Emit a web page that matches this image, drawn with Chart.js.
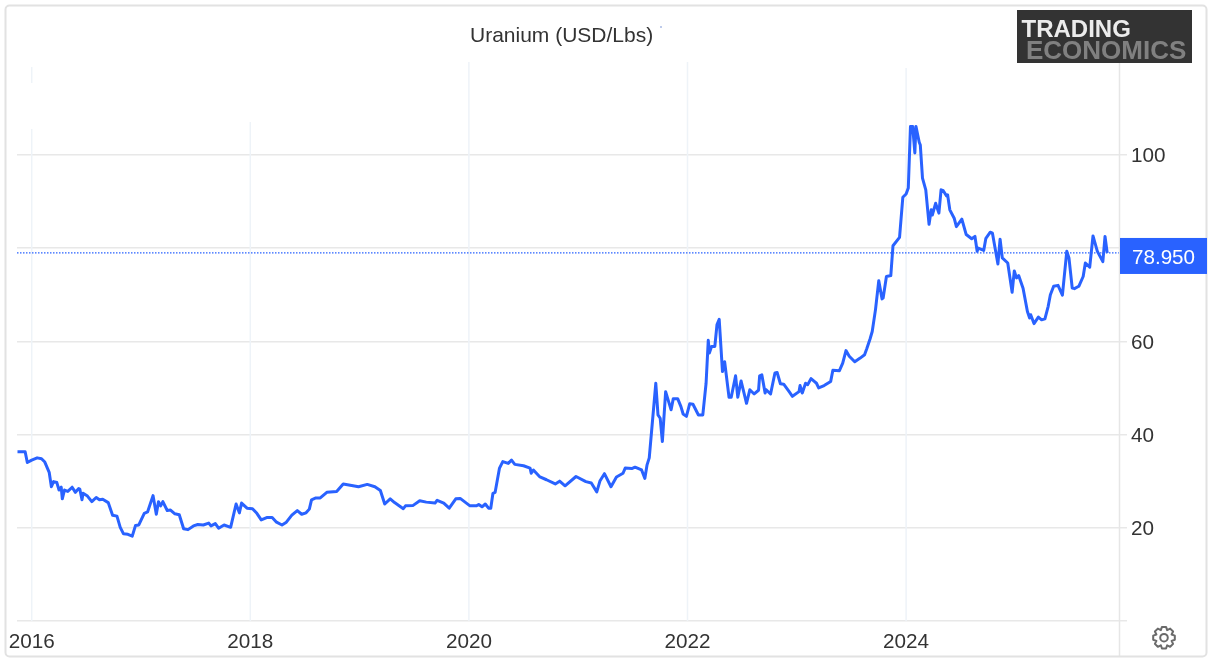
<!DOCTYPE html>
<html>
<head>
<meta charset="utf-8">
<title>Uranium (USD/Lbs)</title>
<style>
html,body{margin:0;padding:0;background:#fff;overflow:hidden}
#wrap{position:relative;width:1209px;height:658px}
canvas{display:block;filter:blur(0.4px)}
</style>
<script src="https://cdn.jsdelivr.net/npm/chart.js@4/dist/chart.umd.min.js"></script>
</head>
<body>
<div id="wrap"><canvas id="c" width="1209" height="658"></canvas></div>
<script>
const years = [2015.87,2015.94,2015.96,2016.0,2016.05,2016.09,2016.12,2016.16,2016.18,2016.2,2016.23,2016.25,2016.27,2016.28,2016.3,2016.33,2016.37,2016.4,2016.43,2016.44,2016.46,2016.47,2016.51,2016.55,2016.59,2016.62,2016.65,2016.7,2016.74,2016.78,2016.81,2016.84,2016.88,2016.92,2016.95,2016.98,2017.03,2017.06,2017.11,2017.14,2017.16,2017.18,2017.2,2017.24,2017.27,2017.31,2017.35,2017.39,2017.43,2017.48,2017.52,2017.57,2017.62,2017.64,2017.68,2017.71,2017.76,2017.82,2017.87,2017.9,2017.92,2017.97,2018.02,2018.06,2018.1,2018.15,2018.2,2018.24,2018.29,2018.33,2018.38,2018.43,2018.47,2018.51,2018.54,2018.56,2018.6,2018.64,2018.7,2018.79,2018.85,2018.94,2018.99,2019.07,2019.14,2019.19,2019.23,2019.28,2019.32,2019.4,2019.42,2019.49,2019.55,2019.61,2019.69,2019.71,2019.77,2019.82,2019.88,2019.92,2020.01,2020.07,2020.09,2020.12,2020.15,2020.18,2020.2,2020.22,2020.24,2020.28,2020.31,2020.36,2020.39,2020.42,2020.5,2020.56,2020.57,2020.59,2020.65,2020.71,2020.79,2020.83,2020.88,2020.98,2021.07,2021.12,2021.17,2021.2,2021.24,2021.3,2021.35,2021.41,2021.43,2021.49,2021.52,2021.58,2021.61,2021.63,2021.65,2021.71,2021.73,2021.75,2021.77,2021.8,2021.85,2021.87,2021.91,2021.94,2021.96,2021.99,2022.02,2022.05,2022.1,2022.14,2022.17,2022.19,2022.2,2022.22,2022.25,2022.27,2022.29,2022.32,2022.34,2022.38,2022.4,2022.44,2022.46,2022.49,2022.54,2022.57,2022.61,2022.65,2022.66,2022.68,2022.71,2022.72,2022.76,2022.8,2022.82,2022.85,2022.88,2022.93,2022.96,2023.02,2023.03,2023.05,2023.08,2023.1,2023.13,2023.16,2023.18,2023.2,2023.25,2023.31,2023.33,2023.39,2023.42,2023.45,2023.48,2023.53,2023.58,2023.62,2023.64,2023.67,2023.69,2023.72,2023.75,2023.78,2023.79,2023.82,2023.86,2023.88,2023.94,2023.97,2024.0,2024.02,2024.04,2024.06,2024.08,2024.09,2024.12,2024.13,2024.15,2024.18,2024.21,2024.23,2024.24,2024.27,2024.3,2024.32,2024.34,2024.37,2024.38,2024.4,2024.44,2024.46,2024.51,2024.55,2024.6,2024.63,2024.65,2024.66,2024.71,2024.73,2024.77,2024.79,2024.84,2024.86,2024.88,2024.93,2024.97,2024.99,2025.01,2025.03,2025.07,2025.11,2025.13,2025.14,2025.17,2025.21,2025.24,2025.27,2025.3,2025.32,2025.35,2025.39,2025.43,2025.47,2025.49,2025.52,2025.54,2025.58,2025.62,2025.64,2025.68,2025.71,2025.75,2025.8,2025.82,2025.84];
const prices = [36.3,36.3,34.0,34.5,35.0,34.8,34.1,31.9,28.8,29.9,29.7,28.1,28.7,26.2,28.1,27.8,28.7,27.6,28.4,28.3,26.0,27.4,26.8,25.6,26.5,26.0,26.1,25.4,22.7,22.5,20.1,18.7,18.6,18.2,20.5,20.6,23.1,23.4,26.9,22.9,25.6,24.7,25.6,23.7,23.8,23.0,22.8,19.8,19.6,20.4,20.7,20.6,21.0,20.4,20.9,19.9,20.6,20.1,25.1,23.2,25.3,24.2,24.1,23.1,21.7,22.2,22.2,21.2,20.6,21.2,22.7,23.7,22.9,23.2,24.0,26.0,26.4,26.4,27.6,27.8,29.4,29.0,28.8,29.3,28.8,28.0,25.1,26.2,25.4,24.1,24.7,24.8,25.8,25.5,25.3,25.9,25.3,24.2,26.2,26.3,24.7,24.7,25.0,24.5,25.1,24.2,24.2,27.4,27.6,32.8,34.2,33.8,34.5,33.6,33.3,32.8,31.7,32.4,30.9,30.3,29.4,30.0,29.0,31.0,29.9,29.6,27.7,30.1,31.6,28.8,30.9,31.7,32.8,32.7,33.0,32.4,30.6,33.5,35.0,51.0,44.2,43.5,38.5,49.2,45.3,47.7,47.7,46.0,44.4,43.9,46.6,46.5,44.2,44.2,51.0,60.2,57.5,58.9,58.9,63.6,64.7,53.5,55.6,48.0,48.0,52.6,48.0,51.5,46.7,49.6,48.7,49.5,52.6,52.8,48.9,49.6,48.7,53.2,53.3,50.9,50.8,49.2,48.2,49.2,50.5,48.9,51.0,50.7,52.0,51.4,51.0,50.0,50.5,51.4,53.8,53.7,55.3,58.0,56.8,55.6,56.4,57.1,58.4,60.5,62.1,66.8,73.0,69.1,69.3,73.9,74.1,80.5,82.3,90.9,91.6,92.9,106.1,106.1,100.4,106.1,102.7,102.1,95.0,92.5,85.1,88.2,87.1,89.6,87.5,92.5,92.3,91.2,91.4,88.2,86.4,84.6,86.2,82.9,82.0,82.5,79.3,80.0,79.5,82.1,83.4,83.2,76.6,81.9,77.9,76.8,70.5,75.1,73.6,74.1,71.4,66.4,65.0,65.7,63.8,65.2,64.6,64.8,67.5,70.0,71.8,72.0,69.9,79.3,77.9,71.4,71.3,71.8,73.9,76.8,75.9,82.6,79.3,77.1,82.5,78.95];
const xTicks = [2016,2018,2020,2022,2024];
const yTicks = [0,20,40,60,80,100];
const lastPrice = 78.95;
const lastLabel = "78.950";
const chartTitle = "Uranium (USD/Lbs)";
const xMin = 2015.8655, xMax = 2025.957, yMin = 0, yMax = 119.7;

const FONT = '"Liberation Sans", Arial, sans-serif';
const BLUE = '#2962ff';
const gridTops = {2016:129, 2018:122, 2020:62, 2022:62, 2024:68};

const decor = {
  id:'decor',
  beforeDatasetsDraw(chart){
    const c = chart.ctx, a = chart.chartArea, sx = chart.scales.x;
    c.save();
    c.strokeStyle = '#eef3f8'; c.lineWidth = 1.5;
    xTicks.forEach(y=>{
      const px = sx.getPixelForValue(y);
      c.beginPath(); c.moveTo(px,gridTops[y]); c.lineTo(px,a.bottom); c.stroke();
    });
    const p16 = sx.getPixelForValue(2016);
    c.beginPath(); c.moveTo(p16,67); c.lineTo(p16,83); c.stroke();
    c.restore();
  },
  afterDraw(chart){
    const c = chart.ctx, sy = chart.scales.y;
    c.save();
    // right axis rule
    c.strokeStyle = '#e6e6e6'; c.lineWidth = 1.5;
    c.beginPath(); c.moveTo(1119.5,63); c.lineTo(1119.5,657); c.stroke();
    // card border
    c.strokeStyle = '#e2e2e2'; c.lineWidth = 2;
    c.beginPath(); c.roundRect(5.5,5.5,1201,651,4); c.stroke();
    // title
    c.fillStyle = '#333'; c.font = '21px '+FONT; c.textAlign='left'; c.textBaseline='alphabetic';
    c.fillText(chartTitle,470,42);
    c.fillStyle = '#7f97d8'; c.fillRect(660.5,26,1,2);
    // last value tag
    const y = sy.getPixelForValue(lastPrice);
    c.fillStyle = BLUE; c.fillRect(1120,y-15,87,36);
    c.fillStyle = '#fff'; c.font = '20.6px '+FONT; c.textAlign='center'; c.textBaseline='alphabetic';
    c.fillText(lastLabel,1163.5,y+11);
    // logo
    c.fillStyle = '#333'; c.fillRect(1017,10,175,53);
    c.textAlign='left';
    c.font = 'bold 24px '+FONT; c.fillStyle='#ececec'; c.fillText('TRADING',1021.5,37);
    c.font = 'bold 26px '+FONT; c.fillStyle='#808080'; c.fillText('ECONOMICS',1026,59);
    // settings gear
    const gx=1164, gy=637.7, n=8;
    c.strokeStyle='#6a6a6a'; c.lineWidth=2; c.lineJoin='round';
    c.beginPath();
    for(let i=0;i<n;i++){
      const t=i*2*Math.PI/n - Math.PI/2, w=2*Math.PI/n;
      [[-0.5,8.2],[-0.24,11],[0.24,11],[0.5,8.2]].forEach(([o,r],k)=>{
        const a2=t+o*w, X=gx+r*Math.cos(a2), Y=gy+r*Math.sin(a2);
        (i===0&&k===0)?c.moveTo(X,Y):c.lineTo(X,Y);
      });
    }
    c.closePath(); c.stroke();
    c.beginPath(); c.arc(gx,gy,3.8,0,2*Math.PI); c.stroke();
    c.restore();
  }
};

new Chart(document.getElementById('c'),{
  type:'line',
  data:{datasets:[
    {label:'Uranium',data:years.map((x,i)=>({x,y:prices[i]})),borderColor:BLUE,borderWidth:3,pointRadius:0,tension:0,borderJoinStyle:'round',order:1},
    {label:'Last',data:[{x:xMin,y:lastPrice},{x:xMax,y:lastPrice}],borderColor:BLUE,borderWidth:1.2,borderDash:[1.5,1.5],pointRadius:0,order:2}
  ]},
  options:{
    responsive:false,animation:false,events:[],
    layout:{padding:{left:17,top:63,right:0,bottom:0}},
    plugins:{legend:{display:false},title:{display:false},tooltip:{enabled:false}},
    scales:{
      x:{type:'linear',min:xMin,max:xMax,
        grid:{display:false},border:{display:false},
        afterBuildTicks(s){s.ticks=xTicks.map(value=>({value}));},
        afterFit(s){s.height=37;},
        ticks:{autoSkip:false,maxRotation:0,padding:1,color:'#333',font:{family:FONT,size:20.7},callback:v=>String(v)}
      },
      y:{type:'linear',position:'right',min:yMin,max:yMax,
        grid:{color:'#e8e8e8',lineWidth:1.5,tickLength:7},border:{display:false},
        afterBuildTicks(s){s.ticks=yTicks.map(value=>({value}));},
        afterFit(s){s.width=89;},
        ticks:{autoSkip:false,padding:4,labelOffset:1.5,color:'#333',font:{family:FONT,size:20.7},callback:v=>v===0?'':String(v)}
      }
    }
  },
  plugins:[decor]
});
</script>
</body>
</html>
